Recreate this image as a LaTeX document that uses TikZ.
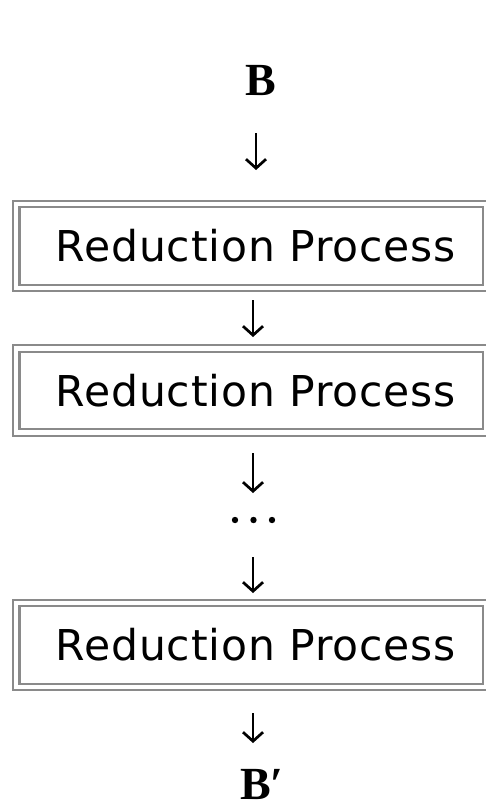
\documentclass[tikz,border=0pt]{standalone}
\usepackage{fontspec}
\setmainfont{Liberation Serif}
\newfontfamily\boxfont{DejaVu Sans}[LetterSpace=2]
\usetikzlibrary{arrows.meta}
\definecolor{framegray}{HTML}{8A8A8A}
\begin{document}
\begin{tikzpicture}[x=1pt,y=-1pt,
  procbox/.style={draw=framegray, line width=2.2pt, double=white,
    double distance=4.3pt, minimum width=470pt, minimum height=84pt,
    inner sep=0pt, execute at begin node={\hspace*{9pt}},
    font=\boxfont\fontsize{42.5}{48}\selectfont},
  term/.style={inner sep=0pt, text depth=0pt,
    font=\bfseries\fontsize{46}{52}\selectfont},
  arr/.style={line width=2.7pt, -{Straight Barb[length=9pt,width=20pt]}}]
\useasboundingbox (0,0) rectangle (485,808);

% input and output
\node[term, anchor=base] (B) at (261,95) {B};
\node[term, anchor=base west] (Bp) at (240,799) {B′};

% reduction stages
\node[procbox] (p1) at (251.25,246) {Reduction Process};
\node[procbox] (p2) at (251.25,390.5) {Reduction Process};
\node[procbox] (p3) at (251.25,645) {Reduction Process};

% ellipsis between the stages
\foreach \x [count=\i] in {235,253.5,272}
  \fill (\x,520) circle (3.2pt) coordinate (dot\i);

% arrow end points
\coordinate (a1s) at (256,133); \coordinate (a1e) at (256,170);
\coordinate (a2s) at (253,300); \coordinate (a2e) at (253,337);
\coordinate (a3s) at (253,453); \coordinate (a3e) at (253,493);
\coordinate (a4s) at (253,557); \coordinate (a4e) at (253,593);
\coordinate (a5s) at (253,713); \coordinate (a5e) at (253,743);

\foreach \i in {1,...,5}
  \draw[arr] (a\i s) -- (a\i e);
\end{tikzpicture}
\end{document}
